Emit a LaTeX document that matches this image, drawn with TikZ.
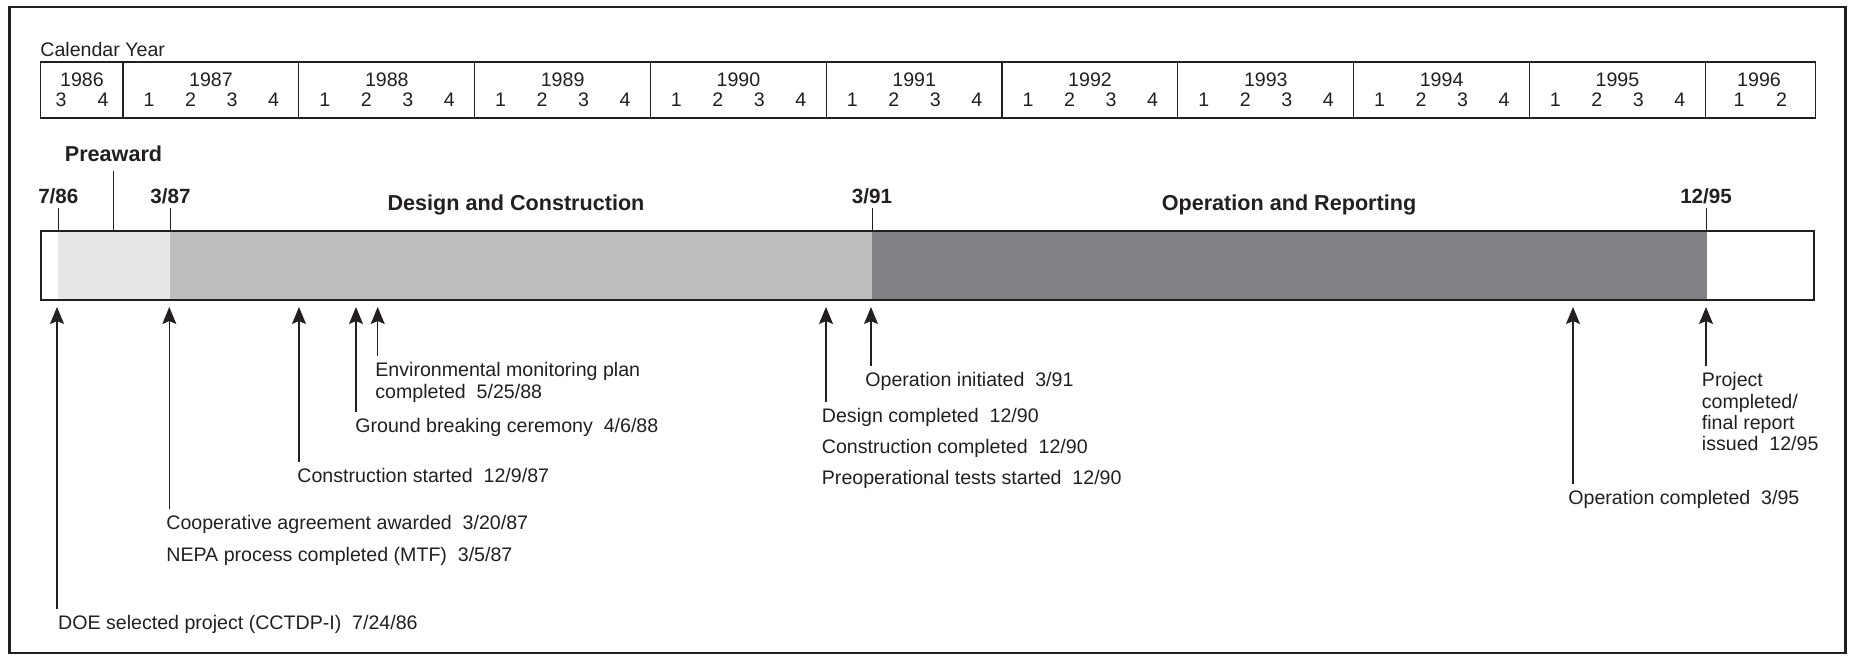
\documentclass[tikz,border=0pt]{standalone}
\usepackage{fontspec}
\setmainfont{Liberation Sans}
\usepackage{xcolor}
\usetikzlibrary{arrows.meta,positioning}

\definecolor{ink}{HTML}{231F20}
\definecolor{preaward}{HTML}{E6E7E8}
\definecolor{design}{HTML}{BCBEC0}
\definecolor{operation}{HTML}{808285}

\begin{document}
\begin{tikzpicture}[
  x=0.5pt, y=-0.5pt,
  txt/.style={font=\fontsize{9.8}{10.7}\selectfont, text=ink, inner sep=0pt},
  lbl/.style={txt, anchor=north west, align=left},
  datelbl/.style={font=\fontsize{10.3}{12}\selectfont\bfseries, text=ink, inner sep=0pt, anchor=base},
  phaselbl/.style={font=\fontsize{10.8}{12}\selectfont\bfseries, text=ink, inner sep=0pt, anchor=base},
  calline/.style={draw=ink, line width=0.6pt},
  tick/.style={draw=ink, line width=0.5pt},
  arr/.style={draw=ink, line width=0.6pt, -{Stealth[length=8.5pt,width=7pt,inset=1.5pt]}, shorten <=3pt, shorten >=3.5pt},
]
\useasboundingbox (0,0) rectangle (1850,660);
\draw[draw=ink, line width=1.25pt] (9.5,7) rectangle (1845.5,653);

\node[txt, anchor=base west] (cal) at (40,56) {Calendar Year};
\draw[calline] (40.7,62) rectangle (1815.5,118);
\node[txt, anchor=base] (y1986) at (82,86) {1986};
\node[txt, anchor=base] (q1986-3) at (61,106) {3};
\node[txt, anchor=base] (q1986-4) at (103,106) {4};
\foreach \yr [count=\i from 0] in {1987,...,1995} {
  \pgfmathsetmacro\xs{123+175.8*\i}
  \draw[calline] (\xs,62) -- (\xs,118);
  \node[txt, anchor=base] (y\yr) at (\xs+88,86) {\yr};
  \foreach \q in {1,...,4}
    \node[txt, anchor=base] (q\yr-\q) at (\xs-15.5+41.5*\q,106) {\q};
}
\draw[calline] (1705.5,62) -- (1705.5,118);
\node[txt, anchor=base] (y1996) at (1759,86) {1996};
\node[txt, anchor=base] (q1996-1) at (1739,106) {1};
\node[txt, anchor=base] (q1996-2) at (1781.5,106) {2};

\fill[preaward] (57.5,231) rectangle (169.5,300);
\fill[design] (169.5,231) rectangle (872,300);
\fill[operation] (872,231) rectangle (1706.5,300);
\draw[draw=ink, line width=1.15pt] (40.7,231) rectangle (1814,300);
\coordinate (bartop) at (0,231);

\node[phaselbl] (pre) at (113.5,161.7) {Preaward};
\node[datelbl] (d86) at (58.3,203.5) {7/86};
\node[datelbl] (d87) at (170.5,203.5) {3/87};
\node[datelbl] (d91) at (872,203.5) {3/91};
\node[datelbl] (d95) at (1706,203.5) {12/95};
\node[phaselbl] (dc) at (516,210.7) {Design and Construction};
\node[phaselbl] (ore) at (1289,210.7) {Operation and Reporting};
\draw[tick, shorten <=4.5pt] (pre.south) -- (pre.south |- bartop);
\foreach \d in {d86,d87,d91,d95}
  \draw[tick, shorten <=2pt] (\d.south) -- (\d.south |- bartop);

\node[lbl] (doe) at (57.8,614.7) {DOE selected project (CCTDP-I)~~7/24/86};
\node[lbl] (coop) at (166,515) {Cooperative agreement awarded~~3/20/87};
\node[lbl, below=6.3pt of coop.south west, anchor=north west] (nepa) {NEPA process completed (MTF)~~3/5/87};
\node[lbl] (cstart) at (297,468) {Construction started~~12/9/87};
\node[lbl] (ground) at (355,418) {Ground breaking ceremony~~4/6/88};
\node[lbl] (env) at (375,362) {Environmental monitoring plan\\completed~~5/25/88};
\node[lbl] (design) at (821.5,408) {Design completed~~12/90};
\node[lbl, below=6pt of design.south west, anchor=north west] (cdone) {Construction completed~~12/90};
\node[lbl, below=6pt of cdone.south west, anchor=north west] (preop) {Preoperational tests started~~12/90};
\node[lbl] (opinit) at (865,372) {Operation initiated~~3/91};
\node[lbl] (opdone) at (1568,490) {Operation completed~~3/95};
\node[lbl] (project) at (1701.5,372) {Project\\completed/\\final report\\issued~~12/95};

\foreach \n/\x in {doe/57, coop/169.3, cstart/299, ground/356, env/377.7, design/826, opinit/871, opdone/1573, project/1706}
  \coordinate (t-\n) at (\x,300);
\foreach \n in {doe,coop,cstart,ground,env,design,opinit,opdone,project}
  \draw[arr] (t-\n |- \n.north) -- (t-\n);
\end{tikzpicture}
\end{document}
